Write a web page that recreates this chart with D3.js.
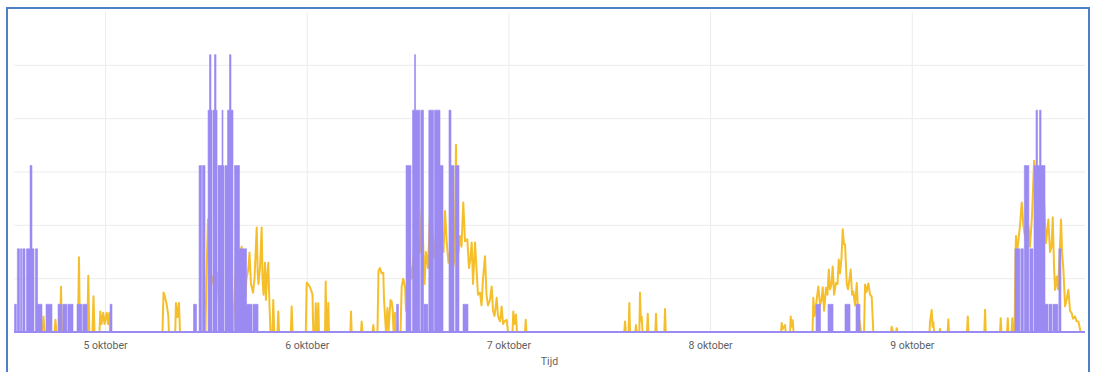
<!DOCTYPE html>
<html>
<head>
<meta charset="utf-8">
<script src="https://cdn.jsdelivr.net/npm/d3@7/dist/d3.min.js"></script>
<style>
  body { margin: 0; background: #ffffff; }
  #chart text { font-family: Roboto, "Open Sans", sans-serif; }
</style>
</head>
<body>
<div id="chart"></div>
<script>
// tijd = uren sinds 4 oktober 00:00, waarde in W
const startUur = 13.17, eindUur = 140.61;
const dagUren = [24, 48, 72, 96, 120];
const dagLabels = ["5 oktober", "6 oktober", "7 oktober", "8 oktober", "9 oktober"];
const yTicks = [1000, 2000, 3000, 4000, 5000];
const yMax = 6000;

// paarse reeks: trapjes [uur, waarde vanaf dat uur]
const verbruik = [
  [13.17,0],[13.23,520],[13.45,0],[13.57,1560],[13.83,0],[13.95,1560],[14.10,0],[14.22,1560],[14.48,0],
  [14.66,1560],[15.08,3120],[15.31,1560],[15.55,0],[15.73,1560],[15.97,520],[16.50,0],[16.98,520],[17.69,0],
  [18.41,520],[18.86,0],[18.98,520],[19.46,0],[19.58,520],[20.19,0],[20.67,520],[21.24,0],[21.36,520],[21.86,0],
  [24.60,520],[24.83,0],
  [34.53,520],[34.89,0],[35.19,3120],[35.48,0],[35.60,3120],[35.90,0],[36.26,4160],[36.43,5200],[36.61,4160],[36.73,0],
  [36.85,4160],[37.03,5200],[37.21,4160],[37.33,0],[37.45,3120],[37.92,4160],[38.04,3120],[38.16,0],[38.28,3120],
  [38.58,4160],[38.81,5200],[38.99,4160],[39.23,0],[39.41,3120],[40.00,1560],[40.84,520],[41.49,0],[41.61,520],[42.21,0],
  [58.69,520],[58.92,0],[59.82,3120],[60.41,0],[60.59,4160],[60.83,5200],[60.95,4160],[61.46,0],[61.58,4160],[61.90,0],
  [61.96,520],[62.41,0],[62.53,4160],[63.09,0],[63.21,4160],[63.86,3120],[64.22,0],[64.93,4160],[65.17,3120],[65.53,0],
  [65.71,3120],[66.12,0],[66.60,520],[67.19,0],
  [108.60,520],[109.14,0],[110.03,520],[110.63,0],[112.05,520],[112.65,0],[113.36,520],[113.84,0],
  [132.28,1560],[132.86,0],[132.98,1560],[133.27,0],[133.39,3120],[133.93,0],[134.05,1560],[134.42,0],[134.54,3120],
  [134.78,4160],[134.96,3120],[135.20,4160],[135.38,3120],[135.85,520],[136.21,0],[136.33,520],[136.68,0],[136.80,520],
  [137.38,0],[137.50,1560],[137.75,0],[140.61,0]
];

// gele reeks: meetpunten [uur, waarde]
const opwekking = [
  [13.17,0],[16.56,0],[16.68,290],[16.80,0],[17.99,0],[18.10,230],[18.22,0],[18.64,0],[18.76,850],[18.88,0],
  [20.78,0],[20.90,1400],[21.02,0],[21.89,0],[22.01,1055],[22.13,0],[22.51,0],[22.63,670],[22.75,0],
  [23.34,0],[23.44,385],[23.58,150],[23.79,360],[23.94,150],[24.20,360],[24.35,150],[24.51,360],[24.59,0],
  [30.84,0],[30.96,740],[31.08,700],[31.19,620],[31.31,540],[31.43,420],[31.53,300],[31.61,0],
  [32.36,0],[32.44,545],[32.62,280],[32.80,545],[32.92,0],
  [35.95,0],[36.07,1000],[36.25,2110],[36.43,1300],[36.61,855],[36.85,1045],[37.14,735],[37.38,1100],[37.56,500],[37.74,0],
  [39.23,0],[39.47,900],[39.64,1670],[39.82,1100],[40.06,1480],[40.26,1600],[40.42,900],[40.66,600],[40.83,1000],
  [41.05,1170],[41.19,1490],[41.37,900],[41.61,735],[41.79,1000],[42.05,1960],[42.17,1100],[42.26,900],[42.44,1200],
  [42.64,1960],[42.74,1000],[42.86,700],[43.04,1300],[43.15,600],[43.27,1000],[43.43,1300],[43.57,500],[43.69,0],
  [43.93,0],[44.02,600],[44.13,0],[44.52,0],[44.62,385],[44.71,0],[46.11,0],[46.21,480],[46.32,0],
  [47.89,0],[48.00,925],[48.15,900],[48.33,860],[48.51,790],[48.69,700],[48.78,0],[48.99,0],[49.08,540],[49.18,0],
  [49.28,0],[49.38,540],[49.46,0],[50.18,0],[50.26,945],[50.35,0],[50.47,0],[50.57,545],[50.65,0],
  [53.19,0],[53.27,385],[53.35,0],[54.46,0],[54.54,195],[54.63,0],[55.84,0],[55.92,130],[56.01,0],
  [56.42,0],[56.54,1150],[56.72,1200],[56.90,1100],[57.11,1110],[57.20,600],[57.32,290],[57.43,0],[57.61,450],[57.73,0],
  [57.97,600],[58.11,570],[58.23,415],[58.33,0],[58.42,0],[58.51,360],[58.59,0],[59.16,0],[59.30,850],[59.49,1000],
  [59.70,850],[59.81,400],[60.05,900],[60.29,1300],[60.53,1000],[60.77,1500],[61.00,1200],[61.24,1800],[61.48,1500],
  [61.68,2300],[61.84,1730],[62.02,900],[62.19,1500],[62.43,1200],[62.67,2200],[62.79,2930],[62.91,2000],[63.15,1400],
  [63.38,1800],[63.62,1300],[63.86,1500],[64.10,1900],[64.28,1500],[64.46,2270],[64.66,1680],[64.87,1300],[65.05,1490],
  [65.29,1100],[65.53,1300],[65.65,2000],[65.76,3510],[65.88,2000],[66.06,1500],[66.24,1800],[66.42,1600],[66.63,2430],
  [66.84,1700],[67.11,1740],[67.31,1200],[67.49,1400],[67.63,1680],[67.79,900],[68.03,1680],[68.23,1100],[68.38,700],
  [68.62,735],[68.80,500],[68.98,1000],[69.22,1420],[69.39,700],[69.57,500],[69.81,600],[70.01,855],[70.17,400],
  [70.35,300],[70.61,640],[70.76,300],[71.00,200],[71.20,480],[71.36,150],[71.54,200],[71.80,230],[71.95,0],
  [72.49,0],[72.58,385],[72.73,150],[72.90,330],[73.02,0],[73.98,0],[74.06,230],[74.15,0],
  [85.78,0],[85.88,195],[85.97,0],[86.30,0],[86.39,545],[86.47,0],[87.10,0],[87.18,130],[87.27,0],
  [87.58,0],[87.66,740],[87.76,200],[87.86,290],[87.96,0],[88.49,0],[88.58,340],[88.66,0],[89.48,0],[89.56,340],[89.65,0],
  [90.55,0],[90.64,430],[90.72,0],
  [104.44,0],[104.52,170],[104.62,50],[104.92,130],[105.00,0],[105.51,0],[105.59,290],[105.69,100],[105.83,220],[105.93,0],
  [108.19,0],[108.28,640],[108.43,300],[108.60,500],[108.88,855],[109.08,500],[109.26,600],[109.40,840],[109.56,400],
  [109.79,830],[109.97,700],[110.12,1170],[110.27,800],[110.45,900],[110.59,1230],[110.75,700],[110.98,920],[111.16,900],
  [111.31,1360],[111.46,1100],[111.64,1400],[111.78,1925],[111.94,1640],[112.06,1640],[112.26,900],[112.41,800],
  [112.59,1000],[112.73,1170],[112.89,700],[113.04,760],[113.25,500],[113.45,920],[113.60,400],[113.78,200],[113.96,0],
  [114.32,0],[114.44,890],[114.61,750],[114.83,910],[115.03,700],[115.23,665],[115.42,0],
  [117.53,0],[117.61,100],[117.77,0],[118.12,0],[118.21,70],[118.30,0],
  [122.11,0],[122.17,190],[122.37,415],[122.47,100],[122.56,190],[122.65,0],[123.30,0],[123.36,60],[123.42,0],
  [124.26,0],[124.35,240],[124.43,0],[126.57,0],[126.66,290],[126.74,0],[128.63,0],[128.72,415],[128.80,0],
  [130.50,0],[130.58,260],[130.67,0],[131.33,0],[131.42,260],[131.50,0],[131.88,0],[131.96,260],[132.05,0],
  [132.23,0],[132.34,1500],[132.40,1800],[132.52,1500],[132.68,1700],[132.88,2000],[133.08,2430],[133.27,2000],
  [133.48,1800],[133.65,1700],[133.87,1990],[134.07,1600],[134.31,2200],[134.55,3210],[134.67,2800],[134.87,2600],
  [135.02,2000],[135.26,2300],[135.50,2500],[135.65,2800],[135.86,2000],[135.97,1670],[136.25,2110],[136.45,1500],
  [136.63,1600],[136.77,2150],[136.93,1200],[137.05,790],[137.25,1040],[137.40,800],[137.58,1400],[137.76,2110],
  [137.88,1500],[138.03,1200],[138.24,480],[138.41,600],[138.63,790],[138.83,400],[139.03,350],[139.19,250],
  [139.43,290],[139.60,200],[139.82,195],[139.96,100],[140.08,0],[140.61,0]
];

const width = 1096, height = 372;
const margin = { top: 12, right: 11, bottom: 40, left: 14 };
const basis = new Date(2023, 9, 4, 0, 0, 0);
const uurNaarDatum = h => new Date(basis.getTime() + h * 3600 * 1000);

const svg = d3.select("#chart")
  .append("svg")
  .attr("width", width)
  .attr("height", height);

const x = d3.scaleTime()
  .domain([uurNaarDatum(startUur), uurNaarDatum(eindUur)])
  .range([margin.left, width - margin.right]);

const y = d3.scaleLinear()
  .domain([0, yMax])
  .range([height - margin.bottom, margin.top]);

// rasterlijnen
svg.append("g")
  .selectAll("line")
  .data(yTicks)
  .enter()
  .append("line")
  .attr("x1", margin.left)
  .attr("x2", width - margin.right)
  .attr("y1", d => y(d))
  .attr("y2", d => y(d))
  .attr("stroke", "#ececec")
  .attr("stroke-width", 1);

const xAxis = d3.axisBottom(x)
  .tickValues(dagUren.map(uurNaarDatum))
  .tickFormat((d, i) => dagLabels[i])
  .tickSizeInner(-(height - margin.bottom - margin.top))
  .tickSizeOuter(0)
  .tickPadding(10);

const gx = svg.append("g")
  .attr("transform", `translate(0,${height - margin.bottom})`)
  .call(xAxis);
gx.select(".domain").remove();
gx.selectAll(".tick line").attr("stroke", "#ececec");
gx.selectAll(".tick text")
  .attr("fill", "#5f5f5f")
  .style("font-size", "10.5px");

svg.append("text")
  .attr("x", (margin.left + width - margin.right) / 2)
  .attr("y", 365)
  .attr("text-anchor", "middle")
  .attr("fill", "#5f5f5f")
  .style("font-size", "10.5px")
  .text("Tijd");

const lijnGeel = d3.line()
  .x(d => x(uurNaarDatum(d[0])))
  .y(d => y(d[1]));

const vlakPaars = d3.area()
  .x(d => x(uurNaarDatum(d[0])))
  .y0(y(0))
  .y1(d => y(d[1]))
  .curve(d3.curveStepAfter);

svg.append("path")
  .datum(opwekking)
  .attr("fill", "none")
  .attr("stroke", "#f5bf2c")
  .attr("stroke-width", 2)
  .attr("stroke-linejoin", "round")
  .attr("d", lijnGeel);

// de paarse pulsen zijn zo dicht dat ze als vlakken ogen
svg.append("path")
  .datum(verbruik)
  .attr("fill", "#9b8af2")
  .attr("stroke", "#9b8af2")
  .attr("stroke-width", 0.6)
  .attr("d", vlakPaars);

// nullijn in paars
svg.append("line")
  .attr("x1", margin.left)
  .attr("x2", width - margin.right)
  .attr("y1", y(0))
  .attr("y2", y(0))
  .attr("stroke", "#9b8af2")
  .attr("stroke-width", 2);

// blauw kader rond de grafiek
svg.append("rect")
  .attr("x", 7)
  .attr("y", 8)
  .attr("width", 1082)
  .attr("height", 380)
  .attr("fill", "none")
  .attr("stroke", "#4f7fc6")
  .attr("stroke-width", 2);
</script>
</body>
</html>
